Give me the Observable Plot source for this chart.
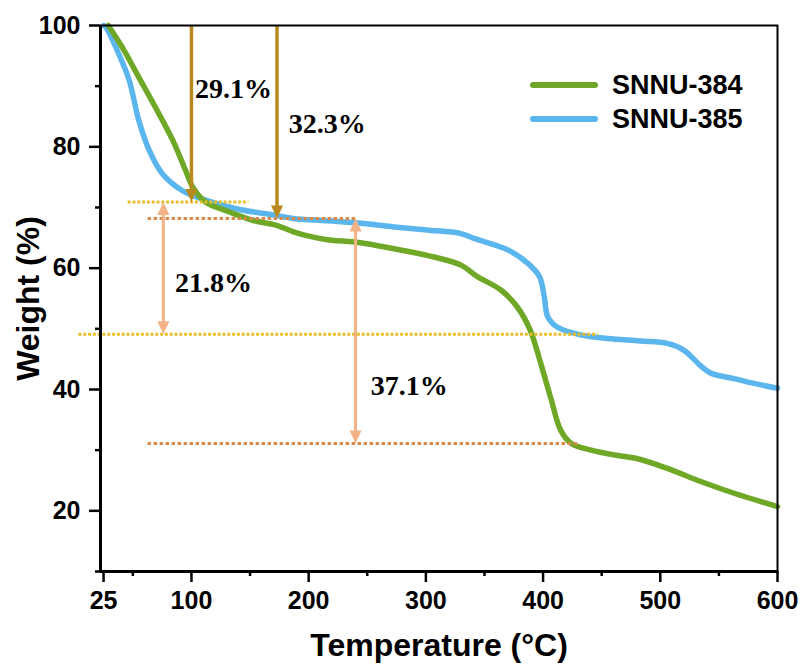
<!DOCTYPE html>
<html><head><meta charset="utf-8">
<script src="https://cdn.jsdelivr.net/npm/d3@7"></script>
<script src="https://cdn.jsdelivr.net/npm/@observablehq/plot@0.6"></script>
<style>
html,body{margin:0;padding:0;background:#fff;}
#wrap{position:relative;width:802px;height:671px;}
#legend{position:absolute;left:530px;top:68px;font:bold 27px "Liberation Sans",Arial,sans-serif;color:#000;}
.row{display:flex;align-items:center;height:34px;white-space:nowrap;}
.sw{width:68px;height:6px;border-radius:3px;margin-right:14px;}
</style></head><body>
<div id="wrap"><div id="legend"></div></div>
<script>
// ---- data ----
const seriesNames = ["SNNU-384", "SNNU-385"];
const seriesColors = ["#6EA826", "#5BB6EE"];

const temp384 = [29, 41, 55, 69, 84, 95, 101, 112, 132, 152, 172, 187, 202, 216, 244, 273, 301, 330, 344, 364, 378, 389, 398, 407, 415, 424, 441, 461, 478, 506, 535, 563, 600];
const wt384   = [100, 96.4, 91.5, 86.6, 81.1, 76.1, 73.4, 70.9, 69.3, 67.9, 67.1, 66.0, 65.2, 64.7, 64.2, 63.2, 62.1, 60.5, 58.6, 56.4, 53.6, 49.8, 44.3, 38.3, 33.3, 31.1, 30.0, 29.2, 28.7, 27.0, 24.8, 22.9, 20.7];

const temp385 = [25, 27, 38, 47, 55, 64, 75, 92, 112, 138, 172, 187, 216, 244, 273, 301, 330, 341, 370, 387, 397, 401, 404, 412, 432, 455, 483, 506, 520, 535, 543, 563, 580, 600];
const wt385   = [100, 99.7, 95.3, 90.9, 84.4, 79.4, 75.6, 72.8, 71.2, 69.8, 68.7, 68.2, 67.8, 67.4, 66.8, 66.3, 65.7, 64.9, 63.0, 60.8, 58.6, 55.3, 52.0, 50.3, 49.0, 48.4, 48.0, 47.6, 46.5, 43.8, 42.7, 41.8, 41.0, 40.2];

const xDomain = [22.4, 600];
const yDomain = [10, 100];
const xTicks = [25, 100, 200, 300, 400, 500, 600];
const xMinor = [50, 150, 250, 350, 450, 550];
const yTicks = [20, 40, 60, 80, 100];
const yMinor = [10, 30, 50, 70, 90];

// annotations
const lossLabels = ["29.1%", "32.3%", "21.8%", "37.1%"];
const lossLabelX = [103, 183, 86, 253];
const lossLabelY = [89.6, 83.7, 57.5, 40.6];

const levelY  = [70.9, 68.2, 49.1, 31.1];
const levelX1 = [46, 63, 4, 63];
const levelX2 = [149, 240, 447, 430];
const levelColor = ["#E8BE2C", "#D98A4A", "#E8BE2C", "#D98A4A"];
const levelDash = ["3,1.8", "3.5,2.5", "3,1.8", "3.5,2.5"];

const dropX = [100, 173];
const dropTo = [70.9, 68.2];
const spanX = [76, 240];
const spanTop = [70.9, 68.2];
const spanBottom = [49.1, 31.1];

const gold = "#B8891C";
const salmon = "#F3B386";

// ---- build ----
const rows384 = temp384.map((t, i) => ({t, w: wt384[i]}));
const rows385 = temp385.map((t, i) => ({t, w: wt385[i]}));

const triDown = {draw(c) { c.moveTo(0, 0); c.lineTo(-6, -13); c.lineTo(6, -13); c.closePath(); }};
const triUp   = {draw(c) { c.moveTo(0, 0); c.lineTo(-6, 13); c.lineTo(6, 13); c.closePath(); }};

const levelMarks = levelY.map((y, i) =>
  Plot.ruleY([y], {x1: levelX1[i], x2: levelX2[i], stroke: levelColor[i], strokeWidth: 3, strokeDasharray: levelDash[i]})
);

const chart = Plot.plot({
  width: 802, height: 671,
  marginLeft: 100, marginRight: 25, marginTop: 25, marginBottom: 100,
  x: {domain: xDomain},
  y: {domain: yDomain},
  style: {fontFamily: "'Liberation Sans', Arial, sans-serif", fontWeight: "bold", color: "#000", background: "#fff", overflow: "visible"},
  marks: [
    Plot.line(rows385, {x: "t", y: "w", stroke: seriesColors[1], strokeWidth: 5.5, curve: "catmull-rom", strokeLinejoin: "round", strokeLinecap: "round"}),
    Plot.line(rows384, {x: "t", y: "w", stroke: seriesColors[0], strokeWidth: 5.5, curve: "catmull-rom", strokeLinejoin: "round", strokeLinecap: "round"}),
    ...levelMarks,
    Plot.ruleX(dropX, {x: d => d, y1: 100, y2: (d, i) => dropTo[i] + 1.5, stroke: gold, strokeWidth: 3.5}),
    Plot.dot(dropX, {x: d => d, y: (d, i) => dropTo[i], symbol: triDown, fill: gold, stroke: "none", r: 6}),
    Plot.ruleX(spanX, {x: d => d, y1: (d, i) => spanTop[i] - 1.5, y2: (d, i) => spanBottom[i] + 1.5, stroke: salmon, strokeWidth: 3}),
    Plot.dot(spanX, {x: d => d, y: (d, i) => spanTop[i], symbol: triUp, fill: salmon, stroke: "none", r: 6}),
    Plot.dot(spanX, {x: d => d, y: (d, i) => spanBottom[i], symbol: triDown, fill: salmon, stroke: "none", r: 6}),
    Plot.text(lossLabels, {x: (d, i) => lossLabelX[i], y: (d, i) => lossLabelY[i], text: d => d, textAnchor: "start", lineAnchor: "middle", fontFamily: "'Liberation Serif', 'Times New Roman', serif", fontSize: 28, fontWeight: "bold", fill: "#000"}),
    Plot.frame({stroke: "#000", strokeWidth: 2}),
    Plot.ruleX([xDomain[0]], {stroke: "#000", strokeWidth: 3}),
    Plot.ruleY([yDomain[0]], {stroke: "#000", strokeWidth: 3}),
    Plot.axisX({ticks: xTicks, tickSize: 11, tickPadding: 9, fontSize: 25, strokeWidth: 2.5, label: null}),
    Plot.axisX({ticks: xMinor, tickSize: 5, tickFormat: () => "", strokeWidth: 2.5, label: null}),
    Plot.axisY({ticks: yTicks, tickSize: 11, tickPadding: 9, fontSize: 25, strokeWidth: 2.5, label: null}),
    Plot.axisY({ticks: yMinor, tickSize: 5, tickFormat: () => "", strokeWidth: 2.5, label: null}),
    Plot.text(["Temperature (°C)"], {frameAnchor: "bottom", dy: 74, text: d => d, fontSize: 32, textAnchor: "middle", lineAnchor: "middle", fill: "#000"}),
    Plot.text(["Weight (%)"], {frameAnchor: "left", dx: -72, text: d => d, rotate: -90, fontSize: 32, textAnchor: "middle", lineAnchor: "middle", fill: "#000"})
  ]
});
document.getElementById("wrap").prepend(chart);

const legend = document.getElementById("legend");
seriesNames.forEach((name, i) => {
  const row = document.createElement("div");
  row.className = "row";
  const sw = document.createElement("div");
  sw.className = "sw";
  sw.style.background = seriesColors[i];
  const label = document.createElement("span");
  label.textContent = name;
  row.append(sw, label);
  legend.append(row);
});
</script>
</body></html>
